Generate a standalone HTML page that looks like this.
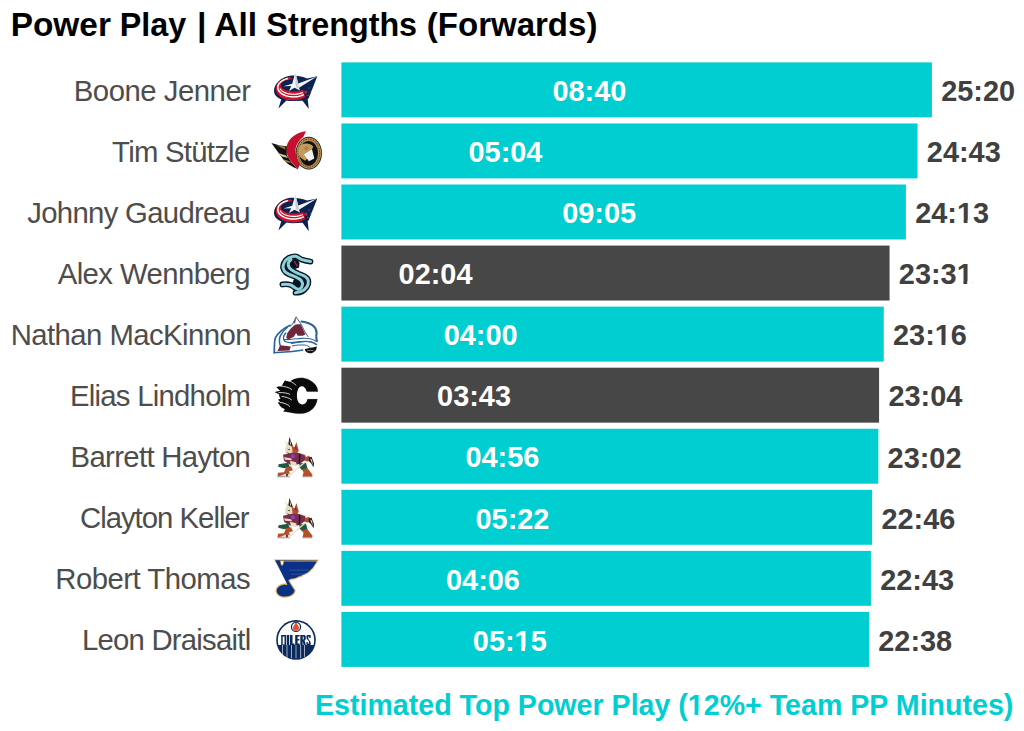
<!DOCTYPE html>
<html><head><meta charset="utf-8"><style>
html,body{margin:0;padding:0;background:#fff;width:1024px;height:731px;overflow:hidden}
svg{display:block}
text{font-family:"Liberation Sans",sans-serif}
.title{font-weight:bold;font-size:34px;fill:#000}
.nm{font-size:29.3px;fill:#4D4D4D}
.pp{font-weight:bold;font-size:28.9px;fill:#fff}
.tot{font-weight:bold;font-size:28.9px;fill:#404040}
.cap{font-weight:bold;font-size:29.4px;fill:#00CED1}
</style></head><body>
<svg width="1024" height="731" viewBox="0 0 1024 731">
<defs>
<g id="CBJ">
 <path d="M-14.5,8.5 L-17.6,18.6 L-9.5,10.5 Z" fill="#0b2350"/>
 <path d="M6,10 L12.8,19.2 L11.5,7.5 Z" fill="#0b2350"/>
 <path d="M-6,-14.2 C-15,-13 -22,-6 -22,1 C-22,8 -13,11.2 -3,11.2 L6,10.8 L12.6,8.5 L21.3,-13.6 L11,-11.5 C5,-13.8 -1,-14.6 -6,-14.2 Z" fill="#0b2350"/>
 <path d="M-5.39,-12.79 L-6.99,-12.58 L-8.56,-12.27 L-10.07,-11.87 L-11.52,-11.36 L-12.90,-10.77 L-14.18,-10.09 L-15.37,-9.33 L-16.44,-8.50 L-17.40,-7.60 L-18.22,-6.65 L-18.91,-5.64 L-19.46,-4.60 L-19.86,-3.53 L-20.10,-2.43 L-20.20,-1.33 L-20.14,-0.22 L-19.93,0.88 L-19.56,1.96 L-19.05,3.01 L-18.39,4.02 L-17.60,4.99 L-16.67,5.90 L-15.63,6.75 L-14.46,7.52 L-13.20,8.22 L-11.85,8.83 L-10.41,9.36 L-8.91,9.79 L-7.36,10.12 L-5.76,10.35 L-4.15,10.47 L-2.52,10.50 L-0.90,10.41 L0.71,10.22 L2.28,9.94 L3.80,9.55 L5.27,9.06 L6.66,8.48 L7.96,7.82 L9.16,7.07 L7.26,-0.22 L6.35,0.18 L5.35,0.53 L4.30,0.84 L3.18,1.09 L2.02,1.30 L0.82,1.45 L-0.40,1.55 L-1.63,1.60 L-2.87,1.59 L-4.11,1.52 L-5.32,1.40 L-6.50,1.22 L-7.64,0.99 L-8.74,0.72 L-9.77,0.39 L-10.73,0.02 L-11.62,-0.39 L-12.41,-0.84 L-13.12,-1.32 L-13.72,-1.83 L-14.22,-2.37 L-14.61,-2.93 L-14.89,-3.50 L-15.05,-4.08 L-15.10,-4.67 L-15.03,-5.25 L-14.84,-5.83 L-14.53,-6.40 L-14.12,-6.96 L-13.59,-7.49 L-12.96,-7.99 L-12.24,-8.47 L-11.42,-8.91 L-10.52,-9.31 L-9.54,-9.67 L-8.49,-9.99 L-7.39,-10.25 L-6.23,-10.47 L-5.04,-10.63 L-3.82,-10.74 Z" fill="#d0142c"/>
 <path d="M-7.94,-11.43 L-9.21,-11.11 L-10.42,-10.72 L-11.58,-10.27 L-12.67,-9.76 L-13.68,-9.19 L-14.60,-8.57 L-15.43,-7.90 L-16.16,-7.19 L-16.79,-6.45 L-17.31,-5.67 L-17.71,-4.87 L-17.99,-4.05 L-18.16,-3.22 L-18.20,-2.38 L-18.12,-1.55 L-17.92,-0.72 L-17.61,0.09 L-17.17,0.89 L-16.63,1.66 L-15.97,2.39 L-15.21,3.09 L-14.36,3.75 L-13.41,4.35 L-12.38,4.90 L-11.27,5.40 L-10.09,5.83 L-8.86,6.20 L-7.58,6.50 L-6.25,6.74 L-4.91,6.90 L-3.54,6.98 L-2.16,7.00 L-0.79,6.94 L0.56,6.80 L1.90,6.60 L3.19,6.32 L4.45,5.98 L5.64,5.57 L6.78,5.09 L7.84,4.56" fill="none" stroke="#fff" stroke-width="1.5"/>
 <path d="M-16.02,-1.46 L-15.81,-1.08 L-15.58,-0.70 L-15.31,-0.33 L-15.01,0.02 L-14.67,0.38 L-14.31,0.72 L-13.91,1.05 L-13.49,1.36 L-13.04,1.67 L-12.56,1.96 L-12.05,2.24 L-11.52,2.51 L-10.97,2.76 L-10.39,2.99 L-9.80,3.21 L-9.18,3.41 L-8.55,3.59 L-7.91,3.76 L-7.24,3.91 L-6.57,4.03 L-5.89,4.14 L-5.19,4.23 L-4.49,4.31 L-3.78,4.36 L-3.07,4.39 L-2.36,4.40 L-1.65,4.39 L-0.94,4.36 L-0.23,4.32 L0.47,4.25 L1.17,4.16 L1.85,4.05 L2.53,3.93 L3.19,3.79 L3.84,3.62 L4.48,3.44 L5.09,3.24 L5.69,3.03 L6.27,2.80 L6.83,2.55" fill="none" stroke="#fff" stroke-width="1.2"/>
 <path d="M-0.6,-17.6 L2.2,-6.5 L21,-13.4 L3,-2.2 L4,0.5 L-1.5,-2.2 L-7,1 L-4.8,-3.8 L-12.5,-3.6 L-3.8,-6.2 Z" fill="#f4f4f6"/>
 <path d="M-0.6,-17.6 L2.2,-6.5 L3,-2.2 L0.5,-2.2 L-0.6,-6.2 Z" fill="#c9ccd2"/>
 <circle cx="9.8" cy="2.2" r="1.6" fill="#d0142c"/>
 <g fill="#fff"><circle cx="13" cy="-2" r="0.45"/><circle cx="15" cy="1" r="0.45"/><circle cx="7" cy="5" r="0.45"/><circle cx="12" cy="5.5" r="0.45"/></g>
</g>
<g id="OTT">
 <path d="M-24.6,-8 L-16,-5.5 L-9,-4.8 L-9.2,4 L-5,11 L1.5,18 L-2,16.5 L-8,13 L-13,8 L-17,2.5 Z" fill="#111"/>
 <path d="M-20,-6 L-11,-4.2 L-10.5,-1.5 L-15,-3.5 Z" fill="#a77c45"/>
 <path d="M-18,2 L-10,4.5 L-8,7 L-14,5.5 Z" fill="#d9c7a0"/>
 <path d="M-14,8 L-7,10 L-5,12 L-10,11 Z" fill="#a77c45"/>
 <ellipse cx="12.8" cy="2.2" rx="13.1" ry="16.4" fill="#111"/>
 <ellipse cx="12.8" cy="2.2" rx="12.4" ry="15.7" fill="#b58b50"/>
 <ellipse cx="12.8" cy="2.2" rx="10.8" ry="14" fill="none" stroke="#2a1a08" stroke-width="0.9" stroke-dasharray="1.1 1.4"/>
 <ellipse cx="12.6" cy="2.4" rx="9.4" ry="12.4" fill="#111"/>
 <path d="M2.5,-3 C4,-6.5 8,-7.8 12,-7.3 C15,-6.8 16.8,-5.5 17.3,-4.2 L15,0 L13,6 L9.1,9.8 L5,7 C2.5,4.5 1.8,1 2.5,-3 Z" fill="#c39a5e"/>
 <path d="M7.9,3.5 L16,-1.6 L18.3,7.5 L12.9,10.2 Z" fill="#f2f2f2"/>
 <path d="M8.5,-3 L11,-1 M10,-4.5 L12.5,-2.5" stroke="#5a3a18" stroke-width="0.6"/>
 <path d="M10,-19.8 C1,-18.8 -7.5,-13 -9.3,-5 C-10.3,1 -8.3,7 -4.5,11 C-2,14 0.5,16.5 1.6,18.8 L3,15.5 L4.3,13.5 C1.5,10.5 -0.6,5 -0.4,-2.2 C0.3,-7 3.5,-11 7.4,-14.2 Z" fill="#c8102e"/>
</g>
<g id="SEA">
 <path d="M-5.5,-14.5 C-1,-15.5 2,-13.5 3.5,-10 L3,-5.5 L-1,-4 L-6.5,-7 Z" fill="#001628"/>
 <path d="M-5,-13.6 L-7.7,-8 L-4.3,-3 L2.5,0.6 L11.3,5 L12.5,11.2 L8.2,17 L3.3,16 L6.3,12.5 L5.2,7.5 L-0.5,3.8 L-10,-0.5 L-12.8,-5 L-11.9,-10.3 L-7.1,-15.3 Z" fill="#001628"/>
 <path d="M-2,6 L5,9 L5,15 L-1,14 L-4,11 Z" fill="#001628"/>
 <g fill="none" stroke="#001628" stroke-linecap="round" stroke-linejoin="round">
  <path d="M14.5,-11.5 C11,-12 8,-12.6 5.4,-13.6 C3,-14.8 1.5,-16.6 -0.7,-16.7 C-3,-16.8 -5,-16.3 -7.1,-15.3 C-9.5,-14 -11.2,-12 -11.9,-10.3 C-12.8,-8.3 -13.2,-6.5 -12.8,-5 C-12.3,-2.8 -11.5,-1.5 -10,-0.5 C-7,1.6 -3.5,2.5 -0.5,3.8 C2,4.9 4,6 5.2,7.5 C6.4,9 6.8,11 6.3,12.5 C5.8,14.3 4.6,15.6 3.3,16 C1.8,16.4 0.5,15.8 -0.8,14.8 C-2.5,13.5 -3.8,12.4 -5.8,11.7 C-8,11 -10.5,10.9 -13.6,11.4" stroke-width="5.8"/>
  <path d="M-5,-13.6 C-7,-12 -8,-10 -7.7,-8 C-7.4,-5.8 -6.2,-4.2 -4.3,-3 C-2.5,-1.8 -0.5,-0.6 2.5,0.6 C6,1.8 9.2,3.2 10.9,5 C12.4,6.6 12.6,9 12.1,11.2 C11.4,13.8 10,15.5 8,17 C6,18.5 3,19.6 -0.5,19.6" stroke-width="5.8"/>
 </g>
 <g fill="none" stroke="#8fd0d3" stroke-width="3" stroke-linecap="round" stroke-linejoin="round">
  <path d="M14.5,-11.5 C11,-12 8,-12.6 5.4,-13.6 C3,-14.8 1.5,-16.6 -0.7,-16.7 C-3,-16.8 -5,-16.3 -7.1,-15.3 C-9.5,-14 -11.2,-12 -11.9,-10.3 C-12.8,-8.3 -13.2,-6.5 -12.8,-5 C-12.3,-2.8 -11.5,-1.5 -10,-0.5 C-7,1.6 -3.5,2.5 -0.5,3.8 C2,4.9 4,6 5.2,7.5 C6.4,9 6.8,11 6.3,12.5 C5.8,14.3 4.6,15.6 3.3,16 C1.8,16.4 0.5,15.8 -0.8,14.8 C-2.5,13.5 -3.8,12.4 -5.8,11.7 C-8,11 -10.5,10.9 -13.6,11.4"/>
  <path d="M-5,-13.6 C-7,-12 -8,-10 -7.7,-8 C-7.4,-5.8 -6.2,-4.2 -4.3,-3 C-2.5,-1.8 -0.5,-0.6 2.5,0.6 C6,1.8 9.2,3.2 10.9,5 C12.4,6.6 12.6,9 12.1,11.2 C11.4,13.8 10,15.5 8,17 C6,18.5 3,19.6 -0.5,19.6"/>
 </g>
 <path d="M-1.6,-11.8 L1.2,-7" stroke="#e0102c" stroke-width="1.3" stroke-linecap="round"/>
</g>
 <g fill="none" stroke="#8fd0d3" stroke-width="2.6" stroke-linecap="butt" stroke-linejoin="round">
  <path d="M14.5,-11.6 C10,-12.3 6,-17.8 0.5,-17.8 C-6.5,-17.2 -11.8,-12 -11.4,-5.5 C-11,-0.5 -3,1 4,3.5 C10,5.5 14,8 13.3,12.8 C12.5,17 6,19.8 1,19.8"/>
  <path d="M-2.3,-13 C-6,-10.8 -7.4,-7 -6,-4.2 C-4,-1.3 2,0.8 6,3.2 C8.8,5.2 9.2,9 8.2,12.3 C7.3,15 4,16.6 0,16.1 C-5,15.6 -10,12 -15,11.8"/>
 </g>
 <path d="M-2.2,-11.8 L1.4,-7.2" stroke="#e0102c" stroke-width="1.2" stroke-linecap="round"/>
</g>
<g id="COL">
 <path d="M0.1,-17 L4.5,-11 L9,-2 L12,2.5 L6,2 L1,-10 Z" fill="#fff"/>
 <g fill="none" stroke="#2a6499" stroke-linecap="round">
  <path d="M-5.9,-8.8 C-12,-6 -18,-1 -20.7,3.8 C-21.8,7 -21.5,12 -21.8,18.6" stroke-width="1.7"/>
  <path d="M-8.7,-6.6 C-12,-4 -14.5,-1 -15.8,2 C-17,5 -16.8,8 -15.8,11.5" stroke-width="1.5"/>
  <path d="M-10.3,-1.1 C-13,2 -13,5 -11.4,7.1 C-8,9.5 -2,8.5 5,7.5 C11,6.7 17,8 20.5,10.5" stroke-width="1.3"/>
  <path d="M-12,5.5 C-8,5.8 -2,5 5,4.3 C12,3.8 17,5 19.8,7.1" stroke-width="1.1"/>
  <path d="M-4.8,9.5 C0,8.5 6,7.5 11.6,7.3 C15,7.3 18.5,8.5 20.9,10.4" stroke-width="1"/>
  <path d="M-3.7,11.8 C0,11 5,10.6 8.8,10.9 C11,11.2 13,12.2 14.3,13.6" stroke-width="1"/>
  <path d="M5.6,-12.6 C9,-12 14,-11 17,-8.5 C20,-6 21,-2 20.3,1.6 C20,3.5 20.5,5 21,7" stroke-width="2.1"/>
  <path d="M0.1,-17 L4.5,-11 L9,-2 L12,2.5" stroke-width="1"/>
  <path d="M0.1,-17 L-3.5,-10 L-6,-7.5" stroke-width="1"/>
  <path d="M-21.8,18.6 C-12,18 -2,17.5 6.7,15.8" stroke-width="1.5"/>
 </g>
 <path d="M1.2,-9.9 L4.5,-9.9 L9.4,0.5 L6.7,1.6 L1.7,1.6 L0.1,-1.1 L-2.1,2.7 L-7.6,5.4 L-9.8,3.8 L-8.7,-1.1 L-4.8,-6.1 L-1,-9.4 Z" fill="#6f263d"/>
 <path d="M-2,-12 L0,-16 L-1,-10 Z" fill="#6f263d"/>
 <path d="M-15.8,11.2 L-5.2,12.4 L-6.5,16.4 L-18.5,16.9 Z" fill="#6f263d"/>
 <path d="M8.8,15 C12,13.8 17,13.2 20.8,12.3 C21,16 18,19 14,19.1 C11,19.2 9,17.5 8.8,15 Z" fill="#111"/>
 <path d="M11,16.8 C13,16.2 15.5,16.2 17.5,16.5" stroke="#ccc" stroke-width="0.6" fill="none"/>
</g>
<g id="CGY">
 <path d="M-1,-16.5 C6,-18.8 14,-17 19.5,-10.5 C21.5,-8 22,-5.5 22,-3.5 L10.8,-3.5 C9.8,-7 8,-8.9 5.8,-8.9 C2.5,-8.9 0.9,-4 0.9,0.5 C0.9,5.5 3,9.2 6.5,9.2 C8.8,9.2 10.8,7.5 11.5,3.8 L21.5,3.8 C20.5,12 14,18 6,18.5 C1,18.8 -4,18 -8,17 L-12.8,16.3 L-11,14 C-14,13 -16,11 -17,9 L-18.3,7.6 L-16,6.5 C-17,5.5 -17.5,5 -17.8,4.4 L-15.5,3.5 C-16.5,2 -17,0.5 -17,-1 L-21.5,-3.3 L-15.8,-4.5 C-17.5,-6 -18.5,-7 -19.6,-8.2 L-14,-9.5 C-13,-12 -12,-13.5 -11,-14.8 L-6,-13.5 C-5,-15 -3,-16 -1,-16.5 Z" fill="#0a0a0a"/>
 <g fill="none" stroke="#fff" stroke-width="0.8" stroke-linecap="round">
  <path d="M-16,-9.2 C-11,-8.8 -7,-7.8 -4.3,-5.8"/>
  <path d="M-17.2,-2.6 C-12,-2.8 -8.5,-2 -6.3,-1"/>
  <path d="M-14,1.3 C-10,1.6 -6.5,3 -4.6,4.6"/>
  <path d="M-16,7.2 C-11.5,7.8 -8,9.2 -6.3,11.2"/>
  <path d="M-6.5,-14.5 C-4,-13 -1.5,-11.5 0,-10"/>
 </g>
 <path d="M-1,-16.5 C6,-18.8 14,-17 19.5,-10.5 C21.5,-8 22,-5.5 22,-3.5 L10.8,-3.5 M11.5,3.8 L21.5,3.8 C20.5,12 14,18 6,18.5 C1,18.8 -4,18 -8,17 L-12.8,16.3" fill="none" stroke="#bbb" stroke-width="0.5" stroke-dasharray="0.8 0.8"/>
</g>
<g id="ARI">
 <path d="M-11.8,-16.2 L-6.5,-11.5 L-8.5,-10 Z" fill="#e9dcc0"/>
 <path d="M-6.6,-19.3 L-3.2,-10.5 L-5.5,-8 L-7.6,-12.5 Z" fill="#1c1c1c"/>
 <path d="M-6.2,-17 L-4.8,-12 L-6,-11.5 Z" fill="#e9dcc0"/>
 <path d="M-9.5,-11.5 L-4.5,-10.5 L-3,-4.5 L-5.5,-1.5 L-10.5,-3 L-10.8,-7 Z" fill="#eadcc0"/>
 <path d="M-9,-7.5 L-6,-7 L-6.5,-6 Z M-9.5,-4 L-6.5,-3 L-7,-2 Z" fill="#222"/>
 <path d="M0.4,-14.2 L2.8,-5.5 L1,-2.5 L-3.5,-3.5 L-4.2,-10.5 L-1.5,-9 Z" fill="#b5502c"/>
 <path d="M-0.5,-11 L1.2,-6.5 L-1.5,-7 Z" fill="#7d2a56"/>
 <path d="M4.5,-3.5 L10,-2 L9.5,1 L5,0.5 Z" fill="#e9dcc0"/>
 <path d="M-13,-1.5 L-4,-3.5 L3,-3.2 L9,-1 L10.5,3 L6,6 L0,9 L-6,8.5 L-12,4.5 Z" fill="#7a2e4e"/>
 <path d="M-12,1 L-5,2 L-4,4 L-11,3.5 Z" fill="#ecdcbf"/>
 <path d="M-6,4.5 L0,6 L1,9 L-5,9.5 Z" fill="#ecdcbf"/>
 <path d="M-5,-1.5 C-3,-2.5 -1,-2 -1,0 C-1,2 -3,2.5 -5,1.5 Z" fill="#8e3fc0"/>
 <path d="M3,-2.5 L4.5,-2 L4,8 L2.5,8 Z" fill="#1a1a1a"/>
 <path d="M-17.5,8 L-8,6.5 L-6,11 L-12,12 L-17.8,10.5 Z" fill="#1f5a40"/>
 <path d="M3.5,7 L10,6.5 L11.5,12.5 L6,14 L3.5,11 Z" fill="#1f5a40"/>
 <path d="M-10,11 L-5,10 L-3,14 L-7,15 L-6,18 L-18.5,20 L-18,16.5 L-12,16 Z" fill="#b5502c"/>
 <path d="M6,13 L11.5,12 L16.5,18.5 L16.2,20.3 L6.5,20.3 L7.5,16 Z" fill="#b5502c"/>
 <path d="M9,1 L13,-0.5 L15,2.5 L12,5.5 L9,4.5 Z" fill="#b5502c"/>
 <path d="M12.5,1.5 L15.5,0.5 L18,7 L17.5,11 L15,7 L13,5 Z" fill="#1a1a1a"/>
 <path d="M14,2 L16,3.5 L17,9.5 L15.5,6 Z" fill="#ecdcbf"/>
 <path d="M10,6 L-2,16 L-5.5,19.5 L-15,20.3 L-12,17.8 L-5,17.5 L-3,15.5 L9,5 Z" fill="#e9dcc0"/>
 <path d="M-10,17.8 L-8,17.8 L-8,20.2 L-10,20.2 Z" fill="#7d2a56"/>
 <path d="M-18.5,20 L-6,20.2 L-6,20.9 L-18.5,20.9 Z M6.5,20.2 L16.3,20.2 L16.3,20.9 L6.5,20.9 Z" fill="#888"/>
</g>
<g id="STL">
 <path d="M-22,-18.8 L22.5,-18.6 L21.5,-16.5 L19.5,-13.5 L18.5,-12.5 L17.5,-10 L15.5,-8.5 L14,-6.5 L12,-5.5 L10.5,-4 L8,-3.5 L5.5,-1.5 L3,-1 L0,0.5 L-3,1.2 L-5,1.5 L-6.5,2.5 L-4.5,6 L-0.5,12 C-0.5,16.5 -5.5,19.2 -10.8,19.2 C-16.5,19.2 -20.3,16.5 -20.3,12.3 C-20.3,8.5 -16,5.2 -10.5,5.2 C-9.5,5.2 -8.6,5.3 -7.8,5.6 Z" fill="#d9a93e" stroke="#c9d4e6" stroke-width="0.5"/>
 <path d="M-20.8,-18 L21,-17.8 L20,-15.8 L18.5,-13.3 L17,-11.2 L15,-9.2 L13,-7.2 L11,-5.6 L8.5,-4.5 L5.5,-2.8 L3,-2 L0,-0.6 L-3,0.1 L-5.5,0.5 L-7.8,1.8 L-5.5,6 L-1.6,12 C-1.6,15.6 -6,18.2 -10.8,18.2 C-15.8,18.2 -19.2,15.7 -19.2,12.3 C-19.2,9 -15.5,6.3 -10.5,6.3 C-9.5,6.3 -8.8,6.5 -8.5,6.7 Z" fill="#0b3088"/>
 <path d="M-16,-17.8 L-12,-17.8 L-12.3,-14.5 L-13.5,-12.5 L-15,-13 Z" fill="#d9a93e"/>
 <path d="M-15.2,-17 L-13,-17 L-13.2,-14.8 L-14,-13.8 L-14.7,-14.2 Z" fill="#fff"/>
 <path d="M-12.5,-17.2 L21,-17.2" stroke="#d9a93e" stroke-width="0.8"/>
 <path d="M-7,-8.2 L13,-8.2 M-5,-4.2 L9,-4.2" stroke="#4a68a8" stroke-width="0.6"/>
</g>
<g id="EDM">
 <circle cx="0" cy="0.5" r="19.8" fill="#0a2a5c"/>
 <circle cx="0" cy="0.5" r="18.2" fill="#fff"/>
 <path d="M-18.2,5.6 L18.2,5.6 C17,14 9,19 0,19 C-9,19 -17,14 -18.2,5.6 Z" fill="#0a2a5c"/>
 <circle cx="0" cy="-12.5" r="5.2" fill="#0a2a5c"/>
 <circle cx="0" cy="-12.5" r="3.9" fill="#fff"/>
 <path d="M0,-17.5 C1,-15 3,-13.5 3,-11.5 C3,-9.8 1.6,-8.6 0,-8.6 C-1.6,-8.6 -3,-9.8 -3,-11.5 C-3,-13.5 -1,-15 0,-17.5 Z" fill="#e4502a"/>
 <g fill="#0a2a5c">
  <path d="M-14.8,-4.4 L-10,-4.4 L-10,5.6 L-14.8,5.6 Z M-13.3,-3 L-11.5,-3 L-11.5,5 L-13.3,5 Z" fill-rule="evenodd"/>
  <path d="M-9.3,-4.4 L-6.8,-4.4 L-6.8,5.6 L-9.3,5.6 Z"/>
  <path d="M-6,-4.4 L-3.5,-4.4 L-3.5,4 L-1.5,4 L-1.5,5.6 L-6,5.6 Z"/>
  <path d="M-0.8,-4.4 L3.6,-4.4 L3.6,-3 L1.6,-3 L1.6,-0.3 L3.3,-0.3 L3.3,1.2 L1.6,1.2 L1.6,4 L3.6,4 L3.6,5.6 L-0.8,5.6 Z"/>
  <path d="M4.3,-4.4 L8.3,-4.4 C9.6,-4.4 9.8,-3 9.8,-1.5 C9.8,0 9.3,0.8 8.6,1 L9.9,5.6 L7.6,5.6 L6.7,1.5 L6.7,5.6 L4.3,5.6 Z M6.7,-3 L6.7,0 L7.4,0 C7.6,0 7.7,-0.6 7.7,-1.5 C7.7,-2.4 7.6,-3 7.4,-3 Z" fill-rule="evenodd"/>
  <path d="M14.7,-4.4 L11.6,-4.4 C10.6,-4.4 10.4,-3 10.4,-2 C10.4,0 13,1 13,2.5 L13,4 L11.8,4 L11.8,2.5 L10.4,2.5 L10.4,4.5 C10.4,5.3 11,5.6 11.8,5.6 L13.4,5.6 C14.4,5.6 14.8,5 14.8,4 C14.8,1.5 12.2,0.5 12.2,-1.5 L12.2,-3 L13.2,-3 L13.2,-1.5 L14.7,-1.5 Z"/>
 </g>
 <path d="M-13.5,5.6 L-13.5,16 M-9,5.6 L-9,18.2 M-4.5,5.6 L-4.5,19 M0,5.6 L0,19 M4.6,5.6 L4.6,18.8 M8.5,5.6 L8.5,17.5" stroke="#fff" stroke-width="0.6"/>
</g>

</defs>
<rect width="1024" height="731" fill="#fff"/>
<text class="title" x="10.7" y="35.9" textLength="100.2" lengthAdjust="spacingAndGlyphs">Power</text><text class="title" x="119.8" y="35.9" textLength="66.45" lengthAdjust="spacingAndGlyphs">Play</text><text class="title" x="197" y="35.9">|</text><text class="title" x="214.2" y="35.9" textLength="42.9" lengthAdjust="spacingAndGlyphs">All</text><text class="title" x="266.35" y="35.9" textLength="150.75" lengthAdjust="spacingAndGlyphs">Strengths</text><text class="title" x="426.8" y="35.9" textLength="170.6" lengthAdjust="spacingAndGlyphs">(Forwards)</text>
<rect x="341.40" y="62.40" width="590.52" height="54.95" fill="#00CED1"/>
<text class="pp" x="589.42" y="101.08" text-anchor="middle">08:40</text>
<text class="tot" x="941.22" y="101.17">25:20</text>
<text class="nm" x="251" y="100.78" text-anchor="end" textLength="177.2" lengthAdjust="spacing">Boone Jenner</text>
<use href="#CBJ" x="296" y="89.88"/>
<rect x="341.40" y="123.46" width="576.15" height="54.95" fill="#00CED1"/>
<text class="pp" x="505.50" y="162.13" text-anchor="middle">05:04</text>
<text class="tot" x="926.85" y="162.24">24:43</text>
<text class="nm" x="250.2" y="161.84" text-anchor="end" textLength="138.1" lengthAdjust="spacing">Tim Stützle</text>
<use href="#OTT" x="296" y="150.94"/>
<rect x="341.40" y="184.52" width="564.49" height="54.95" fill="#00CED1"/>
<text class="pp" x="599.13" y="223.19" text-anchor="middle">09:05</text>
<text class="tot" x="915.19" y="223.30">24:13</text>
<text class="nm" x="250.6" y="222.90" text-anchor="end" textLength="223.3" lengthAdjust="spacing">Johnny Gaudreau</text>
<use href="#CBJ" x="296" y="212.00"/>
<rect x="341.40" y="245.58" width="548.17" height="54.95" fill="#474747"/>
<text class="pp" x="435.57" y="284.25" text-anchor="middle">02:04</text>
<text class="tot" x="898.87" y="284.36">23:31</text>
<text class="nm" x="250.6" y="283.95" text-anchor="end" textLength="192.9" lengthAdjust="spacing">Alex Wennberg</text>
<use href="#SEA" x="296" y="273.06"/>
<rect x="341.40" y="306.64" width="542.35" height="54.95" fill="#00CED1"/>
<text class="pp" x="480.64" y="345.31" text-anchor="middle">04:00</text>
<text class="tot" x="893.05" y="345.42">23:16</text>
<text class="nm" x="251.5" y="345.01" text-anchor="end" textLength="240.8" lengthAdjust="spacing">Nathan MacKinnon</text>
<use href="#COL" x="296" y="334.12"/>
<rect x="341.40" y="367.70" width="537.68" height="54.95" fill="#474747"/>
<text class="pp" x="474.04" y="406.38" text-anchor="middle">03:43</text>
<text class="tot" x="888.38" y="406.48">23:04</text>
<text class="nm" x="250.9" y="406.07" text-anchor="end" textLength="181.0" lengthAdjust="spacing">Elias Lindholm</text>
<use href="#CGY" x="296" y="395.18"/>
<rect x="341.40" y="428.76" width="536.91" height="54.95" fill="#00CED1"/>
<text class="pp" x="502.40" y="467.44" text-anchor="middle">04:56</text>
<text class="tot" x="887.61" y="467.54">23:02</text>
<text class="nm" x="250.9" y="467.13" text-anchor="end" textLength="180.35" lengthAdjust="spacing">Barrett Hayton</text>
<use href="#ARI" x="296" y="456.24"/>
<rect x="341.40" y="489.82" width="530.69" height="54.95" fill="#00CED1"/>
<text class="pp" x="512.50" y="528.50" text-anchor="middle">05:22</text>
<text class="tot" x="881.39" y="528.59">22:46</text>
<text class="nm" x="249.5" y="528.19" text-anchor="end" textLength="169.55" lengthAdjust="spacing">Clayton Keller</text>
<use href="#ARI" x="296" y="517.29"/>
<rect x="341.40" y="550.88" width="529.53" height="54.95" fill="#00CED1"/>
<text class="pp" x="482.97" y="589.56" text-anchor="middle">04:06</text>
<text class="tot" x="880.23" y="589.65">22:43</text>
<text class="nm" x="250.7" y="589.25" text-anchor="end" textLength="195.4" lengthAdjust="spacing">Robert Thomas</text>
<use href="#STL" x="296" y="578.36"/>
<rect x="341.40" y="611.94" width="527.58" height="54.95" fill="#00CED1"/>
<text class="pp" x="509.78" y="650.62" text-anchor="middle">05:15</text>
<text class="tot" x="878.28" y="650.71">22:38</text>
<text class="nm" x="251.2" y="650.31" text-anchor="end" textLength="169.3" lengthAdjust="spacing">Leon Draisaitl</text>
<use href="#EDM" x="296" y="639.41"/>
<text class="cap" x="1013.4" y="714.8" text-anchor="end" textLength="698.4" lengthAdjust="spacingAndGlyphs">Estimated Top Power Play (12%+ Team PP Minutes)</text>
<rect x="958.14" y="219.90" width="5.55" height="4.2" fill="#fff"/><rect x="967.49" y="219.90" width="5.40" height="4.2" fill="#fff"/><rect x="957.88" y="280.96" width="5.55" height="4.2" fill="#fff"/><rect x="967.23" y="280.96" width="5.40" height="4.2" fill="#fff"/><rect x="936.00" y="342.02" width="5.55" height="4.2" fill="#fff"/><rect x="945.35" y="342.02" width="5.40" height="4.2" fill="#fff"/><rect x="515.78" y="647.22" width="5.55" height="4.2" fill="#00CED1"/><rect x="525.13" y="647.22" width="5.40" height="4.2" fill="#00CED1"/><rect x="689.07" y="711.40" width="5.49" height="4.2" fill="#fff"/><rect x="698.32" y="711.40" width="5.35" height="4.2" fill="#fff"/>
</svg>
</body></html>
